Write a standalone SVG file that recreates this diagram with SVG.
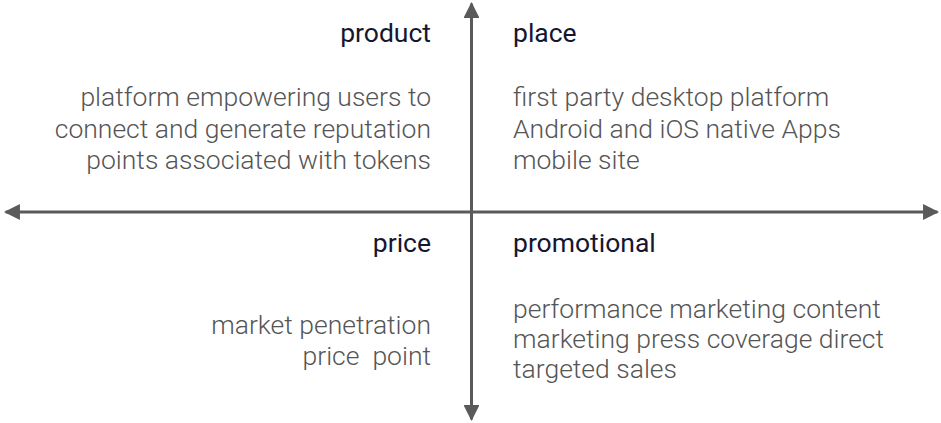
<svg xmlns="http://www.w3.org/2000/svg" width="941" height="423" viewBox="0 0 941 423">
<style>
.h{font-family:Roboto,"Liberation Sans",sans-serif;font-size:26.5px;font-weight:400;fill:#161630}
.b{font-family:Roboto,"Liberation Sans",sans-serif;font-size:26.5px;font-weight:300;fill:#555555}
.r{text-anchor:end}
.ax{stroke:#5a5a5a;stroke-width:3;fill:none}
</style>
<defs>
<marker id="ah" viewBox="0 0 10 10" refX="9" refY="5" markerWidth="5.3" markerHeight="5.3" orient="auto" markerUnits="strokeWidth">
<path d="M0,0 L10,5 L0,10 Z" fill="#5a5a5a"/>
</marker>
</defs>
<rect width="941" height="423" fill="#ffffff"/>
<g id="connectors">
<line class="ax" x1="471.5" y1="212" x2="5.6" y2="212" marker-end="url(#ah)"/>
<line class="ax" x1="471.5" y1="212" x2="937.4" y2="212" marker-end="url(#ah)"/>
<line class="ax" x1="471.5" y1="212" x2="471.5" y2="3.6" marker-end="url(#ah)"/>
<line class="ax" x1="471.5" y1="212" x2="471.5" y2="419.4" marker-end="url(#ah)"/>
</g>
<g id="product">
<text class="h r" x="431" y="42">product</text>
<text class="b r" x="431" y="106">platform empowering users to</text>
<text class="b r" x="431" y="137.5">connect and generate reputation</text>
<text class="b r" x="431" y="168.5">points associated with tokens</text>
</g>
<g id="place">
<text class="h" x="513" y="42">place</text>
<text class="b" x="513" y="106">first party desktop platform</text>
<text class="b" x="513" y="137.5">Android and iOS native Apps</text>
<text class="b" x="513" y="168.5">mobile site</text>
</g>
<g id="price">
<text class="h r" x="431" y="252">price</text>
<text class="b r" x="431" y="334">market penetration</text>
<text class="b r" x="431" y="364.5" xml:space="preserve">price  point</text>
</g>
<g id="promotional">
<text class="h" x="513" y="252">promotional</text>
<text class="b" x="513" y="318">performance marketing content</text>
<text class="b" x="513" y="348">marketing press coverage direct</text>
<text class="b" x="513" y="378">targeted sales</text>
</g>
</svg>
